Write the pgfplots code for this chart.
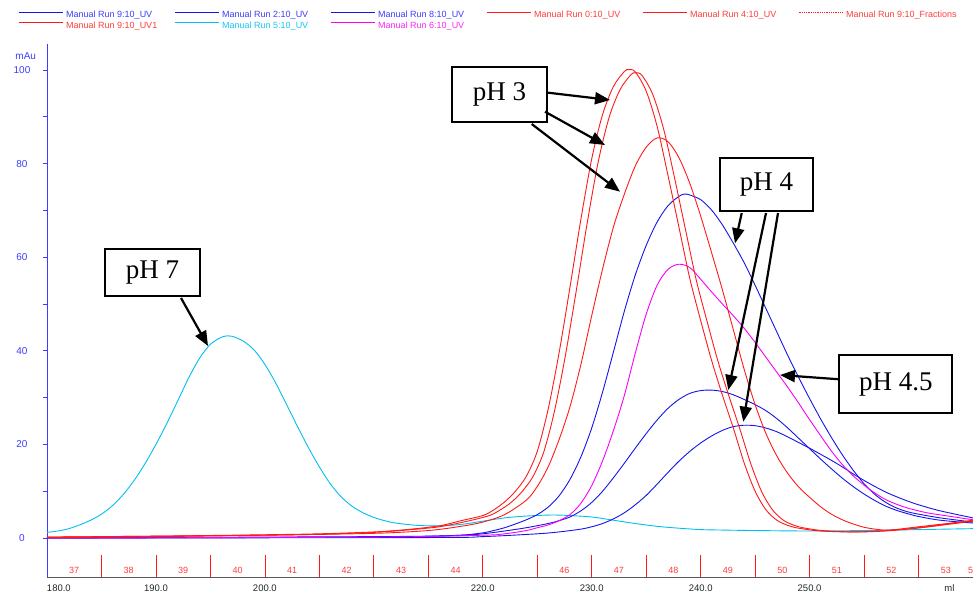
\documentclass[border=0pt]{standalone}
\usepackage{pgfplots}
\pgfplotsset{compat=1.18}
\usepackage{fontspec}
\setmainfont{Liberation Serif}
\newfontfamily\arial{Liberation Sans}
\usetikzlibrary{arrows.meta}
\definecolor{cblue}{RGB}{20,20,235}
\definecolor{cred}{RGB}{255,25,25}
\definecolor{ccyan}{RGB}{0,190,240}
\definecolor{cmag}{RGB}{250,0,250}
\definecolor{lblue}{RGB}{60,60,255}
\definecolor{lred}{RGB}{255,60,60}
\definecolor{lcyan}{RGB}{20,200,245}
\definecolor{lmag}{RGB}{250,40,250}
\newcommand{\legtext}[1]{\makebox[108pt][l]{#1}}
\begin{document}
\begin{tikzpicture}
\begin{axis}[
  at={(47pt,15pt)}, anchor=south west,
  scale only axis, width=926pt, height=533pt,
  xmin=180, xmax=265, ymin=-8.33, ymax=105.56,
  axis x line*=bottom, axis y line*=left,
  x axis line style={-, draw=black!65, line width=0.9pt},
  y axis line style={-, draw=lblue, line width=0.9pt},
  xtick={180,190,200,220,230,240,250,262.84},
  xticklabels={\makebox[0pt][l]{180.0},190.0,200.0,220.0,230.0,240.0,250.0,ml},
  xtick style={draw=none},
  xticklabel style={font=\arial\fontsize{9.5}{10}\selectfont, text=black!85},
  ytick={0,20,40,60,80,100}, minor ytick={10,30,50,70,90},
  ytick style={draw=lblue, line width=0.7pt},
  tick align=outside, major tick length=4pt, minor tick length=4pt,
  yticklabel style={font=\arial\fontsize{10}{10}\selectfont, text=lblue, anchor=center, xshift=-21pt},
  /pgf/number format/assume math mode=true,
  clip mode=individual,
  legend columns=6,
  legend image code/.code={\draw[#1] (0pt,3pt) -- (44pt,3pt); \path (47pt,0pt);},
  legend style={at={(-0.0313,1.0626)}, anchor=north west, draw=none, fill=none, inner sep=0pt,
    column sep=0pt, row sep=1.5pt,
    nodes={inner sep=0pt, text height=7pt, text depth=2pt,
      font=\arial\fontsize{9}{9}\selectfont}},
]
\addlegendimage{cblue, line width=1pt}\addlegendentry[text=lblue]{\legtext{Manual Run 9:10\_UV}}
\addlegendimage{cblue, line width=1pt}\addlegendentry[text=lblue]{\legtext{Manual Run 2:10\_UV}}
\addlegendimage{cblue, line width=1pt}\addlegendentry[text=lblue]{\legtext{Manual Run 8:10\_UV}}
\addlegendimage{cred, line width=1pt}\addlegendentry[text=lred]{\legtext{Manual Run 0:10\_UV}}
\addlegendimage{cred, line width=1pt}\addlegendentry[text=lred]{\legtext{Manual Run 4:10\_UV}}
\addlegendimage{cred, densely dotted, line width=0.8pt}\addlegendentry[text=lred]{\legtext{Manual Run 9:10\_Fractions}}
\addlegendimage{cred, line width=1pt}\addlegendentry[text=lred]{\legtext{Manual Run 9:10\_UV1}}
\addlegendimage{ccyan, line width=1pt}\addlegendentry[text=lcyan]{\legtext{Manual Run 5:10\_UV}}
\addlegendimage{cmag, line width=1pt}\addlegendentry[text=lmag]{\legtext{Manual Run 6:10\_UV}}

% fraction marks
\addplot[cred, line width=0.7pt, unbounded coords=jump, forget plot] table {
x y
185 -8.33
185 -3.6
185 nan
190 -8.33
190 -3.6
190 nan
195 -8.33
195 -3.6
195 nan
200 -8.33
200 -3.6
200 nan
205 -8.33
205 -3.6
205 nan
210 -8.33
210 -3.6
210 nan
215 -8.33
215 -3.6
215 nan
220 -8.33
220 -3.6
220 nan
225 -8.33
225 -3.6
225 nan
230 -8.33
230 -3.6
230 nan
235 -8.33
235 -3.6
235 nan
240 -8.33
240 -3.6
240 nan
245 -8.33
245 -3.6
245 nan
250 -8.33
250 -3.6
250 nan
255 -8.33
255 -3.6
255 nan
260 -8.33
260 -3.6
};
\begin{scope}[every node/.style={font=\arial\fontsize{9}{9}\selectfont, text=lred}]
\node at (axis cs:182.5,-7.0) {37};
\node at (axis cs:187.5,-7.0) {38};
\node at (axis cs:192.5,-7.0) {39};
\node at (axis cs:197.5,-7.0) {40};
\node at (axis cs:202.5,-7.0) {41};
\node at (axis cs:207.5,-7.0) {42};
\node at (axis cs:212.5,-7.0) {43};
\node at (axis cs:217.5,-7.0) {44};
\node at (axis cs:227.5,-7.0) {46};
\node at (axis cs:232.5,-7.0) {47};
\node at (axis cs:237.5,-7.0) {48};
\node at (axis cs:242.5,-7.0) {49};
\node at (axis cs:247.5,-7.0) {50};
\node at (axis cs:252.5,-7.0) {51};
\node at (axis cs:257.5,-7.0) {52};
\node at (axis cs:262.5,-7.0) {53};
\node at (axis cs:265.0,-7.0) {54};
\end{scope}
\node[font=\arial\fontsize{10}{10}\selectfont, text=lblue] at (axis cs:178.05,103.0) {mAu};

% cyan 5:10_UV (pH 7)
\addplot[ccyan, line width=0.9pt, smooth, forget plot] table {
x y
180 1.2
181 1.5
182 2.0
183 2.8
184 3.8
185 5.1
186 6.9
187 9.3
188 12.3
189 15.9
190 20.0
191 24.5
192 29.3
193 34.2
194 38.4
195 41.4
196 42.9
196.6 43.2
197 43.1
198 42.1
199 40.2
200 37.1
201 33.1
202 28.5
203 23.8
204 19.3
205 15.2
206 11.6
207 8.8
208 6.8
209 5.4
210 4.4
211 3.7
212 3.2
214 2.7
216 2.6
218 2.9
220 3.6
222 4.3
224 4.7
226 4.9
227 4.9
228 4.8
230 4.5
232 3.8
234 3.1
236 2.5
238 2.1
240 1.8
242 1.7
245 1.6
250 1.5
255 1.6
260 1.8
265 2.0
};
% blue 3 (peak 24)
\addplot[cblue, line width=0.9pt, smooth, forget plot] table {
x y
180 0
215 0.1
220 0.3
225 0.9
227 1.3
229 1.9
230 2.4
231 3.1
232 4.1
233 5.4
234 7.1
235 9.1
236 11.5
237 14.0
238 16.4
239 18.5
240 20.3
241 21.8
242 23.0
243 23.8
244 24.1
245 24.0
246 23.5
247 22.7
248 21.6
249 20.4
250 19.2
251 17.9
252 16.6
253 15.2
254 13.7
255 12.3
256 11.0
257 9.8
258 8.8
259 7.9
260 7.1
262 5.8
265 4.3
};
% blue 2 (peak 31.6)
\addplot[cblue, line width=0.9pt, smooth, forget plot] table {
x y
180 0
210 0.2
218 0.6
220 0.9
222 1.5
224 2.2
226 3.1
227 3.7
228 4.5
229 5.8
230 7.6
231 10
232 12.9
233 16
234 19.2
235 22.3
236 25.2
237 27.7
238 29.6
239 30.9
240 31.5
241 31.6
242 31.3
243 30.6
244 29.6
245 28.5
246 27.2
247 25.5
248 23.5
249 21.3
250 19.1
251 16.9
252 14.8
253 12.8
254 11.0
255 9.4
256 8.0
257 6.8
258 5.9
259 5.2
260 4.6
262 3.8
265 3.2
};
% blue 1 (peak 73.5)
\addplot[cblue, line width=0.9pt, smooth, forget plot] table {
x y
180 0
200 0.2
210 0.3
215 0.4
218 0.6
220 1.1
221 1.6
222 2.2
223 3.0
224 3.9
225 5.0
226 6.6
227 9.0
228 12.5
229 17.3
230 23.5
231 31.2
232 39.8
233 48.5
234 56.2
235 62.5
236 67.5
237 71
238 73
238.5 73.5
239 73.3
240 72.3
241 70.1
242 66.9
243 63
244 58.8
245 54
246 49
247 44
248 39
249 34.3
250 29.8
251 25.5
252 21.5
253 17.8
254 14.5
255 11.6
256 9.3
257 7.6
258 6.4
259 5.6
260 5.1
262 4.3
265 3.4
};
% magenta 6:10_UV
\addplot[cmag, line width=0.9pt, smooth, forget plot] table {
x y
180 0
210 0.2
220 0.6
222 0.9
224 1.6
225 2.2
226 2.8
227 3.7
228 5.0
229 7.4
230 11.2
231 16.5
232 23.0
233 30.5
234 39.5
235 47.8
236 54
237 57.4
238 58.5
239 57.8
240 55.3
241 52.6
242 50
243 47.5
244 44.8
245 41.8
246 38.6
247 35.4
248 32.2
249 28.8
250 25.3
251 21.9
252 18.6
253 15.7
254 13.3
255 11.3
256 9.6
257 8.2
258 7.2
259 6.4
260 5.8
261 5.3
263 4.6
265 3.9
};
% red C (peak 85.5)
\addplot[cred, line width=0.9pt, smooth, forget plot] table {
x y
180 0.1
190 0.3
200 0.6
210 1.0
215 1.6
218 2.5
220 3.4
222 5.0
224 8.1
225 11
226 15.2
227 21
228 28
229 37
230 47.5
231 57.5
232 66.5
233 73.5
234 79.5
235 83.5
236 85.5
237 84.7
238 81.3
239 75.8
240 68.8
241 61
242 53
243 44.5
244 36
245 28.5
246 22.3
247 17.5
248 13.8
249 10.9
250 8.7
251 6.7
252 5.1
253 3.9
254 3
255 2.3
256 1.9
257 1.7
259 1.9
261 2.4
263 3
265 3.6
};
% red A (peak 100)
\addplot[cred, line width=0.9pt, smooth, forget plot] table {
x y
180 0.2
190 0.4
200 0.7
205 0.9
210 1.3
213 1.8
216 2.6
218 3.7
220 4.8
221 6.0
222 7.7
223 10.0
224 13.2
225 18.5
226 27.5
227 39.5
228 53.5
229 68
230 81
231 90.5
232 96.5
233 99.7
233.4 100.1
234 99.6
235 95.5
236 88
237 77.5
238 66.5
239 55.5
240 46.5
241 38
242 30.5
243 23.5
244 16
245 10
246 6
247 3.8
248 2.7
249 2.1
251 1.5
254 1.3
257 1.6
260 2.4
263 3.2
265 3.8
};
% red B (peak 99.3)
\addplot[cred, line width=0.9pt, smooth, forget plot] table {
x y
180 0.2
190 0.4
200 0.6
205 0.8
210 1.2
213 1.7
216 2.4
218.6 3.6
220.6 4.8
221.6 6.0
222.6 7.6
223.6 9.9
224.6 13.1
225.6 18.4
226.6 27.3
227.6 39.2
228.6 53.1
229.6 67.5
230.6 80.4
231.6 89.9
232.6 95.8
233.6 99
234.0 99.4
234.6 98.9
235.6 94.8
236.6 87.4
237.6 77
238.6 66
239.6 55.1
240.6 46.2
241.6 37.7
242.6 30.3
243.6 23.3
244.6 15.9
245.6 9.9
246.6 6.0
247.6 3.8
248.6 2.7
249.6 2.1
251.6 1.5
254.6 1.3
257.6 1.6
260.6 2.4
263 3.1
265 3.7
};
\end{axis}
% annotations (picture coordinates: 1pt = 1px, y = 592 - pixel row)
\begin{scope}[box/.style={draw=black, line width=2pt, fill=white, minimum width=0pt},
  arr/.style={line width=2.2pt, -{Triangle[length=15pt,width=12pt]}},
  lab/.style={font=\fontsize{27}{30}\selectfont}]
\draw[box] (452pt,525pt) rectangle (547pt,470pt);
\node[lab] at (499.5pt,497.5pt) {pH 3};
\draw[arr] (548pt,499.3pt) -- (610pt,492pt);
\draw[arr] (545pt,480.3pt) -- (605pt,447pt);
\draw[arr] (531.7pt,468pt) -- (620pt,400.3pt);
\draw[box] (105pt,343pt) rectangle (200pt,296pt);
\node[lab] at (152.5pt,319.5pt) {pH 7};
\draw[arr] (181pt,294pt) -- (208pt,246pt);
\draw[box] (720pt,434pt) rectangle (813pt,381pt);
\node[lab] at (766.5pt,407.5pt) {pH 4};
\draw[arr] (741.7pt,379pt) -- (735pt,348.7pt);
\draw[arr] (766pt,379pt) -- (728.3pt,202pt);
\draw[arr] (778pt,379pt) -- (743.3pt,170.3pt);
\draw[box] (839.3pt,237pt) rectangle (952.3pt,178.7pt);
\node[lab] at (895.8pt,207.8pt) {pH 4.5};
\draw[arr] (839.3pt,212.7pt) -- (780pt,217pt);
\end{scope}
\pgfresetboundingbox
\path[use as bounding box] (0,0) rectangle (973pt,592pt);
\end{tikzpicture}
\end{document}
